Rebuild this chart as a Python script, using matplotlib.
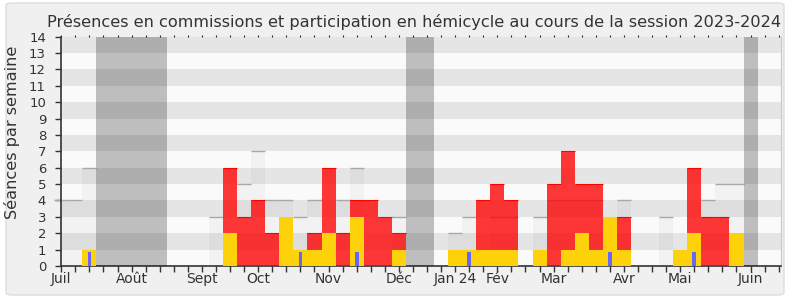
import numpy as np
import matplotlib.pyplot as plt
from matplotlib.patches import FancyBboxPatch

TITLE = "Présences en commissions et participation en hémicycle au cours de la session 2023-2024"
Y_LABEL = "Séances par semaine"

# one value per week, week 0 = first week of July 2023
median_presence = [4, 4, 6, 0, 0, 0, 0, 0, 0, 0, 0, 3, 0,
                   5, 7, 4, 4, 3, 4, 0, 4, 6, 0, 0, 3, 0,
                   0, 0, 2, 3, 0, 3, 3, 0, 3, 4, 4, 4, 4,
                   0, 4, 0, 0, 3, 0, 0, 4, 5, 5, 0, 0, 0]
commission = [0, 0, 0, 0, 0, 0, 0, 0, 0, 0, 0, 0, 6,
              3, 4, 2, 0, 0, 2, 6, 2, 4, 4, 3, 2, 0,
              0, 0, 0, 0, 4, 5, 4, 0, 0, 5, 7, 5, 5,
              0, 3, 0, 0, 0, 0, 6, 3, 3, 0, 0, 0, 0]
hemicycle = [0, 0, 1, 0, 0, 0, 0, 0, 0, 0, 0, 0, 2,
             0, 0, 0, 3, 1, 1, 2, 0, 3, 0, 0, 1, 0,
             0, 0, 1, 1, 1, 1, 1, 0, 1, 0, 1, 2, 1,
             3, 1, 0, 0, 0, 1, 2, 0, 0, 2, 0, 0, 0]
questions = [0, 0, 0.87, 0, 0, 0, 0, 0, 0, 0, 0, 0, 0,
             0, 0, 0, 0, 0.87, 0, 0, 0, 0.87, 0, 0, 0, 0,
             0, 0, 0, 0.87, 0, 0, 0, 0, 0, 0, 0, 0, 0,
             0.87, 0, 0, 0, 0, 0, 0.87, 0, 0, 0, 0, 0, 0]
vacation_weeks = [3, 4, 5, 6, 7, 25, 26, 49]

month_labels = ["Juil", "Août", "Sept", "Oct", "Nov", "Déc",
                "Jan 24", "Fév", "Mar", "Avr", "Mai", "Juin"]
month_weeks = [0, 5, 10, 14, 19, 24, 28, 31, 35, 40, 44, 49]

TEXT = "#333333"


def plot_chart():
    fig = plt.figure(figsize=(7.9, 3.0), dpi=100, facecolor="white")
    fig.patches.append(FancyBboxPatch(
        (6 / 790, 5 / 300), 778 / 790, 292 / 300,
        boxstyle="round,pad=0,rounding_size=0.008",
        transform=fig.transFigure, facecolor="#f0f0f0",
        edgecolor="#dddddd", linewidth=1.0, zorder=-10))

    ax = fig.add_axes([61.3 / 790, 34 / 300, 719.2 / 790, 229.3 / 300])
    ax.set_facecolor("#fafafa")

    weeks = np.arange(len(commission))
    ax.set_xlim(0, 51.13)
    ax.set_ylim(0, 14)

    # alternating horizontal bands
    for y in range(1, 14, 2):
        ax.axhspan(y, y + 1, color="#e5e5e5", lw=0, zorder=0)

    # median presence: faint fill and grey top line
    med = np.array(median_presence, dtype=float)
    ax.bar(weeks, med, width=1.0, color=(0, 0, 0, 0.03), lw=0, zorder=1)
    for w, v in zip(weeks, med):
        if v > 0:
            ax.hlines(v, w - 0.5, w + 0.5, color="#a8a8a8", lw=1.0,
                      zorder=2, clip_on=False)

    com = np.array(commission, dtype=float)
    ax.bar(weeks, com, width=1.0, color=(1, 0, 0, 0.78), lw=0, zorder=3)
    for w, v in zip(weeks, com):
        if v > 0:
            ax.hlines(v, w - 0.5, w + 0.5, color="#ff0000", lw=0.8, zorder=3)

    ax.bar(weeks, hemicycle, width=1.0, color="#fdd20a", lw=0, zorder=4)
    ax.bar(weeks, questions, width=0.26, color="#6666ff", lw=0, zorder=5)

    for w in vacation_weeks:
        ax.axvspan(w - 0.5, w + 0.5, color="black", alpha=0.24, lw=0, zorder=6)

    # axes styling
    ax.set_yticks(range(0, 15))
    ax.tick_params(axis="y", length=4, width=1, color=TEXT, labelcolor=TEXT,
                   labelsize=9.5, pad=7)
    ax.set_xticks(weeks)
    labels = [""] * len(weeks)
    for w, name in zip(month_weeks, month_labels):
        labels[w] = name
    ax.set_xticklabels(labels)
    ax.tick_params(axis="x", length=4, width=1, color=TEXT, labelcolor=TEXT,
                   labelsize=10, pad=0.5)

    top = ax.secondary_xaxis("top")
    top.set_xticks(weeks)
    top.tick_params(length=1.2, width=0.8, color="#222222", labeltop=False)
    top.spines["top"].set_visible(False)

    ax.spines["left"].set_color(TEXT)
    ax.spines["bottom"].set_color(TEXT)
    ax.spines["left"].set_linewidth(1.2)
    ax.spines["bottom"].set_linewidth(1.2)
    ax.spines["top"].set_visible(False)
    ax.spines["right"].set_color("#c8c8c8")
    ax.spines["right"].set_linewidth(0.8)

    fig.text(414 / 790, 1 - 27 / 300, TITLE, ha="center", va="baseline",
             fontsize=11.6, color=TEXT)
    fig.text(12.5 / 790, 1 - 132 / 300, Y_LABEL, rotation=90, ha="center",
             va="center", fontsize=11.6, color=TEXT)

    fig.savefig("out.png", dpi=100, facecolor=fig.get_facecolor())
    plt.close(fig)


def main():
    plot_chart()


if __name__ == "__main__":
    main()
